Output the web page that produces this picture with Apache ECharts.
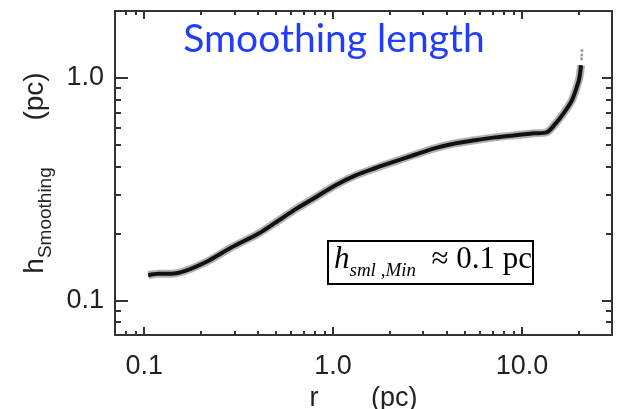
<!DOCTYPE html>
<html><head><meta charset="utf-8">
<script src="https://cdn.jsdelivr.net/npm/echarts@6/dist/echarts.min.js"></script>
<style>html,body{margin:0;padding:0;background:#fff}#c{width:619px;height:409px}</style>
</head><body><div id="c"></div>
<script>
// r (pc) and smoothing length h (pc)
const rValues = [0.105, 0.119, 0.139, 0.165, 0.219, 0.289, 0.403, 0.495, 0.637, 0.813, 1.025, 1.316, 1.68, 2.146, 2.73, 3.476, 4.41, 5.63, 7.19, 9.18, 11.67, 13.5, 15.1, 17.05, 18.4, 19.66, 20.18, 20.56];
const hValues = [0.130, 0.132, 0.132, 0.136, 0.151, 0.173, 0.200, 0.224, 0.258, 0.292, 0.329, 0.365, 0.394, 0.423, 0.453, 0.484, 0.508, 0.525, 0.541, 0.553, 0.564, 0.570, 0.625, 0.716, 0.794, 0.927, 1.007, 1.14];
const rSparse = [20.7, 20.8, 20.75];
const hSparse = [1.22, 1.33, 1.27];
const xMajorTicks = [0.1, 1, 10];
const xMinorTicks = [0.08, 0.09, 0.2, 0.3, 0.4, 0.5, 0.6, 0.7, 0.8, 0.9, 2, 3, 4, 5, 6, 7, 8, 9, 20];
const yMajorTicks = [0.1, 1];
const yMinorTicks = [0.08, 0.09, 0.2, 0.3, 0.4, 0.5, 0.6, 0.7, 0.8, 0.9];
const xTickLabels = ['0.1', '1.0', '10.0'];
const yTickLabels = ['0.1', '1.0'];

const chart = echarts.init(document.getElementById('c'), null, {renderer: 'canvas'});
const LINE = '#333';
const LBL = '#222';
function fmt(ticks, labels) {
  return v => { const i = ticks.findIndex(t => Math.abs(Math.log10(v / t)) < 0.01); return i >= 0 ? labels[i] : ''; };
}
function xAx(pos, ticks, len, showLine, showLabel) {
  return {
    type: 'log', logBase: 10, min: 0.07, max: 30, position: pos, gridIndex: 0,
    axisLine: {show: showLine, lineStyle: {color: LINE, width: 2}},
    axisTick: {show: true, inside: true, length: len, customValues: ticks, lineStyle: {color: LINE, width: 2}},
    axisLabel: showLabel ? {show: true, customValues: xMajorTicks, formatter: fmt(xMajorTicks, xTickLabels), color: LBL, fontFamily: 'Liberation Sans', fontSize: 27, margin: 18} : {show: false},
    splitLine: {show: false}, minorTick: {show: false}
  };
}
function yAx(pos, ticks, len, showLine, showLabel) {
  return {
    type: 'log', logBase: 10, min: 0.07, max: 2, position: pos, gridIndex: 0,
    axisLine: {show: showLine, lineStyle: {color: LINE, width: 2}},
    axisTick: {show: true, inside: true, length: len, customValues: ticks, lineStyle: {color: LINE, width: 2}},
    axisLabel: showLabel ? {show: true, customValues: yMajorTicks, formatter: fmt(yMajorTicks, yTickLabels), color: LBL, fontFamily: 'Liberation Sans', fontSize: 27, margin: 11} : {show: false},
    splitLine: {show: false}, minorTick: {show: false}
  };
}
const xAxes = [
  xAx('bottom', xMajorTicks, 8, true, true),
  xAx('bottom', xMinorTicks, 4, false, false),
  xAx('top', xMajorTicks, 8, true, false),
  xAx('top', xMinorTicks, 4, false, false)
];
Object.assign(xAxes[0], {name: 'r       (pc)', nameLocation: 'middle', nameGap: 48, nameTextStyle: {color: LBL, fontFamily: 'Liberation Sans', fontSize: 27}});
const yAxes = [
  yAx('left', yMajorTicks, 13, true, true),
  yAx('left', yMinorTicks, 6, false, false),
  yAx('right', yMajorTicks, 10, true, false),
  yAx('right', yMinorTicks, 6, false, false)
];
Object.assign(yAxes[0], {
  name: '{h|h}{s|Smoothing}{p|      (pc)}', nameLocation: 'middle', nameRotate: 90, nameGap: 66,
  nameTextStyle: {
    color: LBL, fontFamily: 'Liberation Sans', fontSize: 27,
    rich: {
      h: {fontFamily: 'Liberation Sans', fontSize: 28, color: LBL, lineHeight: 28, verticalAlign: 'top'},
      s: {fontFamily: 'Liberation Sans', fontSize: 19, color: LBL, lineHeight: 19, padding: [15, 0, 0, 0], verticalAlign: 'top'},
      p: {fontFamily: 'Liberation Sans', fontSize: 28, color: LBL, lineHeight: 28, verticalAlign: 'top'}
    }
  }
});

const curve = rValues.map((r, i) => [r, hValues[i]]);
const sparse = rSparse.map((r, i) => [r, hSparse[i]]);

chart.setOption({
  animation: false,
  backgroundColor: '#fff',
  grid: {left: 115, right: 7, top: 11, bottom: 74, containLabel: false, outerBoundsMode: 'none'},
  xAxis: xAxes,
  yAxis: yAxes,
  series: [
    {type: 'line', xAxisIndex: 0, yAxisIndex: 0, data: curve, smooth: 0.3, symbol: 'none',
     lineStyle: {color: 'rgba(0,0,0,0.3)', width: 8}, z: 2},
    {type: 'line', xAxisIndex: 0, yAxisIndex: 0, data: curve, smooth: 0.3, symbol: 'none',
     lineStyle: {color: '#111', width: 4}, z: 3},
    {type: 'scatter', xAxisIndex: 0, yAxisIndex: 0, data: sparse, symbolSize: 3,
     itemStyle: {color: 'rgba(0,0,0,0.5)'}, z: 3}
  ],
  graphic: [
    {type: 'text', z: 10, x: 334, y: 20, style: {
      x: 0, y: 0, text: 'Smoothing length', fill: '#1f3cff', font: '39px Lato', textAlign: 'center'
    }},
    {type: 'group', z: 10, children: [
      {type: 'rect', shape: {x: 328, y: 241, width: 205, height: 43}, style: {fill: '#fff', stroke: '#000', lineWidth: 2}},
      {type: 'text', style: {
        x: 334, y: 260, verticalAlign: 'middle',
        text: '{h|h}{s|sml ,Min}{o|  ≈ 0.1 pc}',
        rich: {
          h: {fontFamily: 'Liberation Serif', fontStyle: 'italic', fontSize: 31, fill: '#000', lineHeight: 31, verticalAlign: 'top'},
          s: {fontFamily: 'Liberation Serif', fontStyle: 'italic', fontSize: 19, fill: '#000', lineHeight: 19, padding: [17, 0, 0, 0], verticalAlign: 'top'},
          o: {fontFamily: 'Liberation Serif', fontSize: 31, fill: '#000', lineHeight: 31, verticalAlign: 'top'}
        }
      }}
    ]}
  ]
});
</script>
</body></html>
